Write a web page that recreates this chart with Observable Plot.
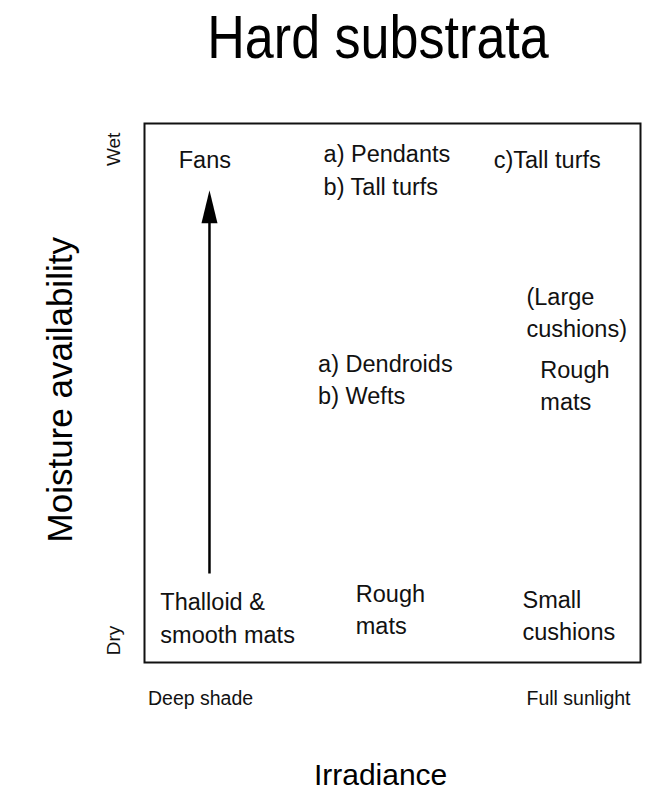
<!DOCTYPE html>
<html>
<head>
<meta charset="utf-8">
<script src="https://cdn.jsdelivr.net/npm/d3@7"></script>
<script src="https://cdn.jsdelivr.net/npm/@observablehq/plot@0.6"></script>
<style>
  html, body { margin: 0; padding: 0; background: #fff; }
  #title { height: 90px; width: 660px; position: relative; font-family: "Liberation Sans", Arial, sans-serif; }
  #title span { position: absolute; left: 378px; top: 6px; font-size: 62px; transform: translateX(-50%) scaleX(0.84); white-space: nowrap; color: #000; line-height: 62px; }
  #chart svg { display: block; }
</style>
</head>
<body>
<div id="title"><span>Hard substrata</span></div>
<div id="chart"></div>
<script>
// Growth-form labels placed by irradiance (0 = deep shade, 100 = full sunlight)
// and moisture availability (0 = dry, 100 = wet)
const formLabels = [
  "Fans",
  "a) Pendants\nb) Tall turfs",
  "c)Tall turfs",
  "(Large\ncushions)",
  "Rough\nmats",
  "a) Dendroids\nb) Wefts",
  "Thalloid &\nsmooth mats",
  "Rough\nmats",
  "Small\ncushions"
];
const formIrradiance = [6.9, 36.1, 70.4, 77.0, 79.8, 35.0, 3.2, 42.6, 76.2];
const formMoisture   = [93.7, 91.7, 93.7, 65.3, 51.7, 52.9, 8.6, 10.1, 9.1];

// Axis end labels
const xEndLabels = ["Deep shade", "Full sunlight"];
const xEndValues = [11.3, 87.5];
const yEndLabels = ["Wet", "Dry"];
const yEndValues = [95.2, 4.1];

// Moisture arrow (irradiance position, from, to)
const arrowIrradiance = [13.1];
const arrowFrom = [16.4];
const arrowTo = [87.6];

const forms = formLabels.map((label, i) => ({label, x: formIrradiance[i], y: formMoisture[i]}));
const xEnds = xEndLabels.map((label, i) => ({label, x: xEndValues[i]}));
const yEnds = yEndLabels.map((label, i) => ({label, y: yEndValues[i]}));
const arrows = arrowIrradiance.map((x, i) => ({x, y1: arrowFrom[i], y2: arrowTo[i]}));

const arrowHead = {
  draw(context) {
    context.moveTo(0, 0);
    context.lineTo(8, 33);
    context.lineTo(-8, 33);
    context.closePath();
  }
};

const chart = Plot.plot({
  width: 660,
  height: 703,
  marginLeft: 144,
  marginRight: 20,
  marginTop: 33,
  marginBottom: 131,
  x: {domain: [0, 100], axis: null},
  y: {domain: [0, 100], axis: null},
  style: {fontFamily: "'Liberation Sans', Arial, sans-serif", color: "#000", background: "#fff"},
  marks: [
    Plot.frame({stroke: "#111", strokeWidth: 2}),
    Plot.ruleX(arrows, {x: "x", y1: "y1", y2: d => d.y2 - 5, stroke: "#000", strokeWidth: 2.5}),
    Plot.dot(arrows, {x: "x", y: "y2", symbol: arrowHead, fill: "#000", stroke: "none", r: 5}),
    Plot.text(forms, {x: "x", y: "y", text: "label", textAnchor: "start", fontSize: 23.5, lineHeight: 1.37, fill: "#111"}),
    Plot.text(xEnds, {x: "x", y: -6.7, text: "label", fontSize: 19.5, fill: "#111"}),
    Plot.text(yEnds, {x: -6.25, y: "y", text: "label", rotate: -90, fontSize: 19, fill: "#111"}),
    Plot.text(["Moisture availability"], {x: -16.9, y: 50.6, text: d => d, rotate: -90, fontSize: 35, fill: "#000"}),
    Plot.text(["Irradiance"], {x: 47.6, y: -21.0, text: d => d, fontSize: 30, fill: "#000"})
  ]
});
document.getElementById("chart").appendChild(chart);
</script>
</body>
</html>
